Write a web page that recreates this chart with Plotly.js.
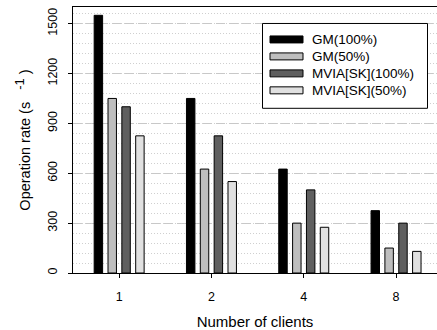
<!DOCTYPE html>
<html>
<head>
<meta charset="utf-8">
<script src="https://cdn.plot.ly/plotly-3.0.1.min.js"></script>
<style>html,body{margin:0;padding:0;background:#fff;overflow:hidden}</style>
</head>
<body>
<div id="chart" style="width:437px;height:330px"></div>
<script>
const categories = ["1", "2", "4", "8"];
const seriesNames = ["GM(100%)", "GM(50%)", "MVIA[SK](100%)", "MVIA[SK](50%)"];
const gm100 = [1550, 1050, 625, 375];
const gm50 = [1050, 625, 300, 150];
const mvia100 = [1000, 825, 500, 300];
const mvia50 = [825, 550, 275, 130];
const seriesValues = [gm100, gm50, mvia100, mvia50];
const seriesColors = ["#000000", "#bebebe", "#5f5f5f", "#e0e0e0"];
const yTicks = [0, 300, 600, 900, 1200, 1500];

const W = 437, H = 330;
const plotL = 73, plotT = 7, plotB = 273.5;
const plotW = W - plotL, plotH = plotB - plotT;
const px = x => (x - plotL) / plotW;
const py = y => (plotB - y) / plotH;

const traces = seriesValues.map((vals, i) => ({
  type: "bar",
  name: seriesNames[i],
  x: categories,
  y: vals,
  marker: {color: seriesColors[i], line: {color: "#000", width: 1}},
  showlegend: false,
  hoverinfo: "skip"
}));

// custom legend
const shapes = [{
  type: "rect", xref: "paper", yref: "paper",
  x0: px(262.5), x1: px(427.5), y0: py(108.5), y1: py(23.5),
  fillcolor: "#fff", line: {color: "#000", width: 1}, layer: "above"
}];
const annotations = [];
const legendY = [39.5, 56.5, 73.5, 90.5];
seriesNames.forEach((n, i) => {
  shapes.push({
    type: "rect", xref: "paper", yref: "paper",
    x0: px(270), x1: px(303), y0: py(legendY[i] + 3.5), y1: py(legendY[i] - 3.5),
    fillcolor: seriesColors[i], line: {color: "#000", width: 1}, layer: "above"
  });
  annotations.push({
    xref: "paper", yref: "paper", x: px(310), y: py(legendY[i]),
    xanchor: "left", yanchor: "middle", showarrow: false, text: n,
    font: {family: "Liberation Sans, Arial, sans-serif", size: 13.5, color: "#000"}
  });
});

const layout = {
  width: W, height: H,
  margin: {l: plotL, r: 0, t: plotT, b: H - plotB},
  paper_bgcolor: "#fff", plot_bgcolor: "#fff",
  font: {family: "Liberation Sans, Arial, sans-serif", color: "#000"},
  barmode: "group", bargap: 0.4, bargroupgap: 0.39,
  xaxis: {
    type: "category", range: [-0.5, -0.5 + plotW / 92.3],
    showline: true, linecolor: "#000", linewidth: 1, mirror: true,
    ticks: "outside", ticklen: 4, tickcolor: "#000",
    ticklabelstandoff: 8,
    tickfont: {size: 12.5},
    showgrid: false, zeroline: false,
    title: {text: "Number of clients", font: {size: 15}, standoff: 13}
  },
  yaxis: {
    range: [0, 1600], tickvals: yTicks, ticktext: yTicks.map(String),
    tickangle: -90,
    showline: true, linecolor: "#000", linewidth: 1, mirror: true,
    ticks: "outside", ticklen: 4, tickcolor: "#000",
    ticklabelstandoff: 6,
    tickfont: {size: 12.5},
    showgrid: true, gridcolor: "#c8c8c8", gridwidth: 1, griddash: "9px,4px",
    zeroline: false,
    minor: {dtick: 60, showgrid: true, gridcolor: "#cfcfcf", gridwidth: 1, griddash: "1px,2px"},
    title: {text: "Operation rate (s   <sup><span style=\"font-size:13px\">-1</span></sup> )", font: {size: 14.5}, standoff: 11}
  },
  shapes: shapes,
  annotations: annotations
};

Plotly.newPlot("chart", traces, layout, {staticPlot: true, displayModeBar: false});
</script>
</body>
</html>
